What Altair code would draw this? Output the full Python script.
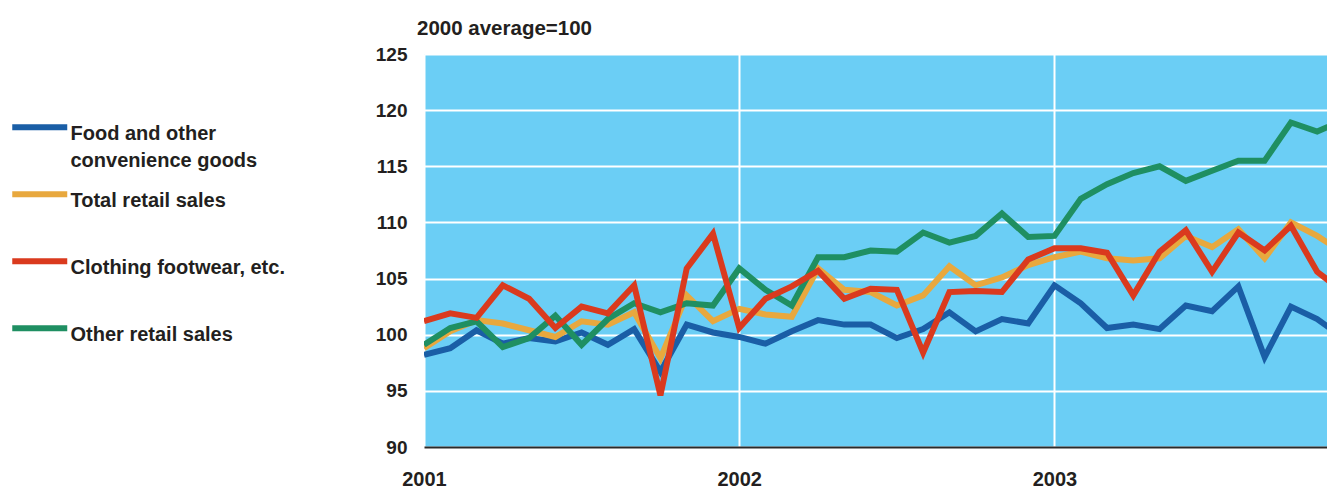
import altair as alt
import pandas as pd

# Monthly observations, Jan 2001 - Dec 2003
months = [f"{y}-{m:02d}" for y in (2001, 2002, 2003) for m in range(1, 13)]

food = [98.2, 98.8, 100.4, 99.2, 99.7, 99.4, 100.2, 99.1, 100.5, 96.7, 100.9, 100.2,
        99.8, 99.2, 100.3, 101.3, 100.9, 100.9, 99.7, 100.5, 102.0, 100.3, 101.4, 101.0,
        104.4, 102.8, 100.6, 100.9, 100.5, 102.6, 102.1, 104.3, 98.0, 102.5, 101.4, 99.7]
total = [98.8, 100.3, 101.3, 101.0, 100.4, 99.8, 101.2, 100.9, 102.0, 97.9, 103.5, 101.2,
         102.3, 101.8, 101.6, 105.9, 104.0, 103.8, 102.6, 103.5, 106.1, 104.4, 105.1, 106.2,
         106.9, 107.4, 106.8, 106.6, 106.8, 108.8, 107.8, 109.4, 106.8, 110.0, 108.8, 107.3]
clothing = [101.2, 101.9, 101.5, 104.4, 103.2, 100.6, 102.5, 101.9, 104.4, 94.6, 105.9, 109.0,
            100.6, 103.2, 104.3, 105.7, 103.2, 104.1, 104.0, 98.4, 103.8, 103.9, 103.8, 106.7,
            107.7, 107.7, 107.3, 103.5, 107.4, 109.3, 105.6, 109.1, 107.5, 109.7, 105.6, 103.8]
other = [99.1, 100.6, 101.2, 98.9, 99.7, 101.7, 99.1, 101.4, 102.8, 102.0, 102.8, 102.6,
         105.9, 104.0, 102.6, 106.9, 106.9, 107.5, 107.4, 109.1, 108.2, 108.8, 110.8, 108.7,
         108.8, 112.1, 113.4, 114.4, 115.0, 113.7, 114.6, 115.5, 115.5, 118.9, 118.1, 119.1]

series_names = ["Food and other convenience goods", "Total retail sales",
                "Clothing footwear, etc.", "Other retail sales"]
series_colors = ["#1A5EA6", "#E8A83E", "#DA3A1E", "#1F8F62"]
draw_order = ["Food and other convenience goods", "Total retail sales",
              "Other retail sales", "Clothing footwear, etc."]
year_labels = ["2001", "2002", "2003"]
y_ticks = [90, 95, 100, 105, 110, 115, 120, 125]

values_by_series = {
    "Food and other convenience goods": food,
    "Total retail sales": total,
    "Clothing footwear, etc.": clothing,
    "Other retail sales": other,
}

rows = []
for s in draw_order:
    for m, v in zip(months, values_by_series[s]):
        y, mo = int(m[:4]), int(m[5:])
        rows.append({"series": s, "month": m, "idx": (y - 2001) * 12 + (mo - 1), "value": v})
df = pd.DataFrame(rows)

FONT = "Liberation Sans"
TXT = "#231f20"

year_expr = "toString(2001 + round(datum.value / 12))"

PLOT_W = 903
MONTH_PX = 26.27

chart = alt.Chart(df).mark_line(strokeWidth=6, clip=True).encode(
    x=alt.X("idx:Q",
            scale=alt.Scale(domain=[0, PLOT_W / MONTH_PX], nice=False, zero=False),
            axis=alt.Axis(values=[0, 12, 24], labelExpr=year_expr, title=None,
                          grid=True, gridColor="white", gridWidth=2,
                          ticks=False, domain=True, domainColor="#2a2a2a", domainWidth=2,
                          labelFont=FONT, labelFontSize=20, labelFontWeight="bold",
                          labelColor=TXT, labelPadding=22, labelFlush=False)),
    y=alt.Y("value:Q",
            scale=alt.Scale(domain=[90, 125], nice=False, zero=False),
            axis=alt.Axis(values=y_ticks, title=None, grid=True, gridColor="white",
                          gridWidth=2, ticks=False, domain=False,
                          labelFont=FONT, labelFontSize=19, labelFontWeight="bold",
                          labelColor=TXT, labelPadding=17)),
    color=alt.Color("series:N",
                    scale=alt.Scale(domain=series_names, range=series_colors),
                    legend=alt.Legend(
                        orient="none", legendX=-401.25, legendY=52.75, direction="vertical",
                        title=None, symbolType="M-2,0.25L2,0.25", symbolSize=756,
                        symbolStrokeWidth=6, labelFont=FONT, labelFontSize=20,
                        labelFontWeight="bold", labelColor=TXT, labelBaseline="top",
                        labelOffset=13.75, rowPadding=3, gridAlign="all", labelLimit=400,
                        padding=0, offset=0,
                        labelExpr="datum.label == 'Food and other convenience goods' ? ['Food and other', 'convenience goods'] : datum.label")),
    detail="series:N",
).properties(
    width=PLOT_W, height=393,
    title=alt.TitleParams("2000 average=100", anchor="start", frame="group", dx=-7,
                          font=FONT, fontSize=20.5, fontWeight="bold", color=TXT, offset=6),
    autosize=alt.AutoSizeParams(type="none"),
    padding={"left": 416, "top": 46, "right": 0, "bottom": 46},
).configure(
    view={"fill": "#6BCEF5", "strokeOpacity": 0},
    style={"guide-label": {"lineHeight": 27}},
)

chart.save("out.html", embed_options={"renderer": "svg", "actions": False})
